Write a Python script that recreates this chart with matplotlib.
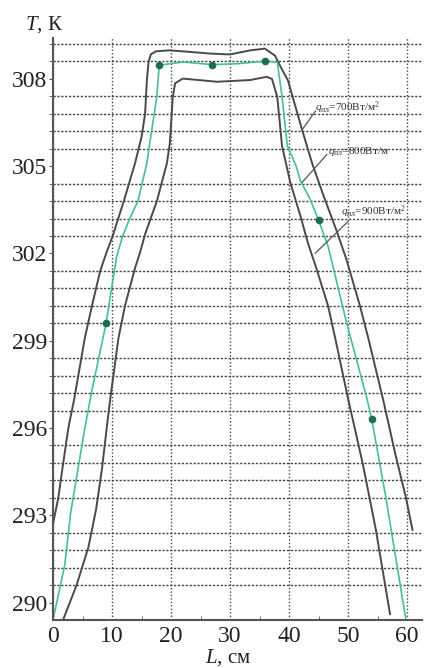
import numpy as np
import matplotlib
matplotlib.use('Agg')
import matplotlib.pyplot as plt

""" DONNÉES """
# q = 700 W/m2 (outer curve)
L_700 = [0, 0.9, 1.7, 2.6, 3.6, 5.4, 6.6, 8.0, 9.1, 10.2, 12.0, 13.9, 15.0, 15.6, 15.9, 16.2,
         16.6, 17.5, 19.8, 23.0, 26.6, 30.0, 33.4, 35.9, 37.6, 38.6, 39.8, 42.2, 43.9, 45.8,
         48.1, 49.7, 52.0, 53.4, 55.9, 58.0, 59.8, 60.9]
T_700 = [292.7, 293.6, 294.75, 296.0, 297.0, 299.1, 300.2, 301.4, 302.05, 302.65, 303.8, 305.1,
         306.0, 306.8, 307.95, 308.6, 308.85, 308.95, 308.98, 308.93, 308.87, 308.84, 308.98,
         309.04, 308.8, 308.4, 307.95, 306.25, 305.1, 304.0, 302.75, 301.8, 300.2, 299.1,
         297.0, 295.1, 293.6, 292.5]

# q = 800 W/m2 (green curve)
L_800 = [0, 2.0, 3.0, 5.4, 6.6, 9.0, 10.0, 10.8, 11.8, 13.0, 14.4, 15.9, 16.4, 17.6, 18.0, 22.0,
         27.0, 31.2, 36.0, 38.0, 38.8, 39.7, 41.2, 41.9, 43.6, 45.0, 46.6, 49.7, 53.2, 54.0,
         56.4, 59.8]
T_800 = [289.4, 291.3, 293.1, 296.0, 297.3, 299.6, 300.9, 301.9, 302.6, 303.2, 303.8, 305.1,
         305.8, 307.4, 308.47, 308.58, 308.49, 308.52, 308.61, 308.57, 307.4, 305.7, 305.0,
         304.5, 303.85, 303.14, 302.25, 299.65, 297.0, 296.3, 293.6, 289.4]

# measured points
L_mes = [9, 18, 27, 36, 45, 54]
T_mes = [299.6, 308.47, 308.49, 308.61, 303.14, 296.3]

# q = 900 W/m2 (inner curve)
L_900 = [1.7, 4.0, 6.0, 7.3, 8.3, 9.1, 9.7, 11.1, 12.2, 13.9, 14.7, 15.6, 17.6, 19.3, 19.8,
         20.3, 20.7, 22.0, 27.8, 33.4, 36.2, 37.1, 38.0, 38.8, 40.2, 41.9, 43.2, 44.6, 46.6,
         47.8, 50.0, 52.5, 54.7, 57.1]
T_900 = [289.4, 290.6, 291.9, 293.2, 294.6, 296.0, 297.0, 299.1, 300.2, 301.5, 302.0, 302.66,
         303.8, 305.1, 305.8, 307.4, 307.85, 308.01, 307.9, 307.96, 308.07, 308.0, 307.37,
         305.7, 304.44, 303.3, 302.35, 301.5, 300.2, 299.1, 297.0, 294.75, 292.5, 289.6]

labels = [r'$q_{\mathrm{пл}}$=700Вт/м$^2$', r'$q_{\mathrm{пл}}$=800Вт/м', r'$q_{\mathrm{пл}}$=900Вт/м$^2$']

""" STYLE """
plt.rcParams['font.family'] = ['Liberation Serif', 'DejaVu Serif']
plt.rcParams['mathtext.fontset'] = 'custom'
plt.rcParams['mathtext.rm'] = 'Liberation Serif'
plt.rcParams['mathtext.it'] = 'Liberation Serif:italic'

fig = plt.figure(figsize=(4.26, 6.68), dpi=100)
ax = fig.add_axes([0.1244, 0.0719, 0.866, 0.871])

gray = '#4a4a4a'
ax.plot(L_700, T_700, color=gray, lw=1.4)
ax.plot(L_900, T_900, color=gray, lw=1.4)
ax.plot(L_800, T_800, color='#45bf9a', lw=1.2)
ax.plot(L_mes, T_mes, 'o', color='#1d6e50', ms=4.5)

ax.set_xlim(0, 62.5)
ax.set_ylim(289.4, 309.4)

ax.set_xticks(np.arange(0, 61, 10))
ax.set_xticks(np.arange(5, 61, 10), minor=True)
ax.set_yticks(np.arange(290, 309, 3))
ax.set_yticks(np.arange(290, 309.3, 0.6), minor=True)

ax.tick_params(axis='x', which='major', direction='in', length=0, labelsize=17, pad=4, colors='#222')
ax.tick_params(axis='x', which='minor', direction='in', length=3, color='#555')
ax.tick_params(axis='y', which='both', direction='out', length=3, color='#555', labelsize=17, pad=1, labelcolor='#222')

# grid
ax.grid(True, axis='x', which='major', color='#444', ls=(0, (1, 1.5)), lw=1.0)
ax.grid(True, axis='y', which='minor', color='#444', ls=(0, (1.6, 1.2)), lw=1.0)
ax.set_axisbelow(True)

for s in ['top', 'right']:
    ax.spines[s].set_visible(False)
for s in ['left', 'bottom']:
    ax.spines[s].set_color('#555')
    ax.spines[s].set_linewidth(1.5)

# curve labels with leaders
ax.text(44.4, 307.0, labels[0], fontsize=8, va='center', ha='left', color='#333')
ax.annotate('', xy=(42.2, 306.25), xytext=(44.5, 306.9),
            arrowprops=dict(arrowstyle='-', color='#555', lw=0.9, shrinkA=0, shrinkB=0))
ax.text(46.6, 305.5, labels[1], fontsize=8, va='center', ha='left', color='#333')
ax.annotate('', xy=(42.2, 304.44), xytext=(46.4, 305.4),
            arrowprops=dict(arrowstyle='-', color='#555', lw=0.9, shrinkA=0, shrinkB=0))
ax.text(48.8, 303.45, labels[2], fontsize=8, va='center', ha='left', color='#333')
ax.annotate('', xy=(44.4, 302.0), xytext=(50.0, 303.1),
            arrowprops=dict(arrowstyle='-', color='#555', lw=0.9, shrinkA=0, shrinkB=0))

fig.text(0.059, 0.963, r'$T$, К', fontsize=15, va='center', ha='left', color='#222')
fig.text(0.535, 0.016, r'$L$, см', fontsize=15, va='center', ha='center', color='#222')

plt.savefig('out.png', dpi=100)
